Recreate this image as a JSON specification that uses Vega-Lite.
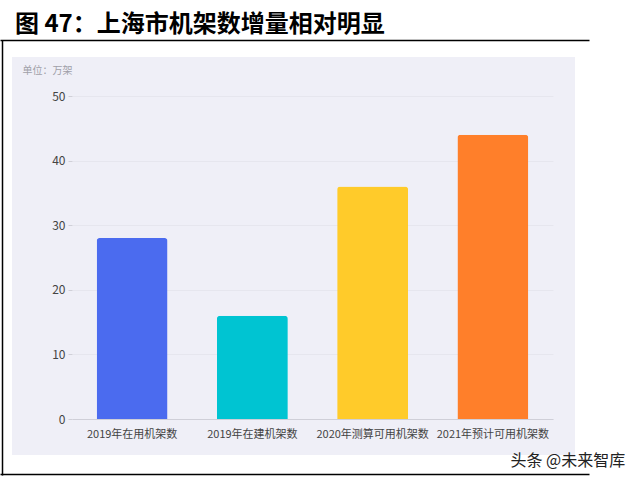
{
  "$schema": "https://vega.github.io/schema/vega-lite/v6.json",
  "autosize": "none",
  "width": 563,
  "height": 398,
  "padding": {"left": 12, "top": 57, "right": 65, "bottom": 25},
  "background": "white",
  "config": {
    "view": {"fill": "#efeff7", "stroke": null},
    "font": "Noto Sans CJK SC"
  },
  "title": {
    "text": "图 47：上海市机架数增量相对明显",
    "anchor": "start",
    "frame": "group",
    "orient": "top",
    "fontSize": 24,
    "fontWeight": "bold",
    "color": "#000000",
    "font": "Noto Sans CJK SC",
    "baseline": "bottom",
    "offset": -21,
    "dx": 3
  },
  "datasets": {
    "bars": [
      {"category": "2019年在用机架数", "value": 28},
      {"category": "2019年在建机架数", "value": 16},
      {"category": "2020年测算可用机架数", "value": 36},
      {"category": "2021年预计可用机架数", "value": 44}
    ],
    "frame": [{"f": 0}, {"f": 1}]
  },
  "layer": [
    {
      "data": {"name": "bars"},
      "mark": {"type": "bar", "cornerRadiusTopLeft": 3, "cornerRadiusTopRight": 3},
      "encoding": {
        "x": {
          "field": "category",
          "type": "nominal",
          "sort": null,
          "scale": {"range": [60, 541], "paddingInner": 0.41, "paddingOuter": 0.205},
          "axis": {
            "orient": "bottom",
            "offset": -36,
            "labelAngle": 0,
            "labelFontSize": 11,
            "labelColor": "#444444",
            "labelPadding": 9,
            "ticks": false,
            "domainColor": "#cfcfd8",
            "domainWidth": 1,
            "title": "头条 @未来智库",
            "titleX": 498,
            "titleY": 41,
            "titleAlign": "left",
            "titleBaseline": "middle",
            "titleFontSize": 16,
            "titleFontWeight": "normal",
            "titleColor": "#222222"
          }
        },
        "y": {
          "field": "value",
          "type": "quantitative",
          "scale": {"domain": [0, 50], "range": [362, 39], "nice": false},
          "axis": {
            "orient": "left",
            "offset": -60,
            "values": [0, 10, 20, 30, 40, 50],
            "labelFontSize": 12,
            "labelColor": "#444444",
            "labelPadding": 3,
            "tickSize": 4,
            "tickColor": "#d0d0d8",
            "domain": false,
            "grid": true,
            "gridColor": "#e6e6ee",
            "gridWidth": 1,
            "title": "单位：万架",
            "titleAngle": 0,
            "titleX": -50,
            "titleY": 13,
            "titleAlign": "left",
            "titleBaseline": "middle",
            "titleFontSize": 10,
            "titleFontWeight": "normal",
            "titleColor": "#a0a0a8"
          }
        },
        "color": {
          "field": "category",
          "type": "nominal",
          "sort": null,
          "scale": {"range": ["#4b6bef", "#00c4d2", "#ffcb2a", "#ff7f2a"]},
          "legend": null
        }
      }
    },
    {
      "data": {"name": "frame"},
      "mark": {"type": "rule", "opacity": 0},
      "encoding": {
        "x": {
          "field": "f",
          "type": "quantitative",
          "scale": {"domain": [0, 1], "range": [-12, 577], "nice": false, "zero": false},
          "axis": {
            "orient": "top",
            "offset": 17,
            "labels": false,
            "ticks": false,
            "grid": false,
            "title": null,
            "domainColor": "#000000",
            "domainWidth": 1.5
          }
        },
        "y": {
          "field": "f",
          "type": "quantitative",
          "scale": {"domain": [0, 1], "range": [418, -17], "nice": false, "zero": false},
          "axis": {
            "orient": "left",
            "offset": 10,
            "labels": false,
            "ticks": false,
            "grid": false,
            "title": null,
            "domainColor": "#000000",
            "domainWidth": 1.5
          }
        }
      }
    },
    {
      "data": {"name": "frame"},
      "mark": {"type": "rule", "opacity": 0},
      "encoding": {
        "x": {
          "field": "f",
          "type": "quantitative",
          "scale": {"domain": [0, 1], "range": [-12, 577], "nice": false, "zero": false},
          "axis": {
            "orient": "bottom",
            "offset": 19,
            "labels": false,
            "ticks": false,
            "grid": false,
            "title": null,
            "domainColor": "#000000",
            "domainWidth": 1.5
          }
        }
      }
    }
  ],
  "resolve": {
    "scale": {"x": "independent", "y": "independent", "color": "independent"},
    "axis": {"x": "independent", "y": "independent"}
  }
}
